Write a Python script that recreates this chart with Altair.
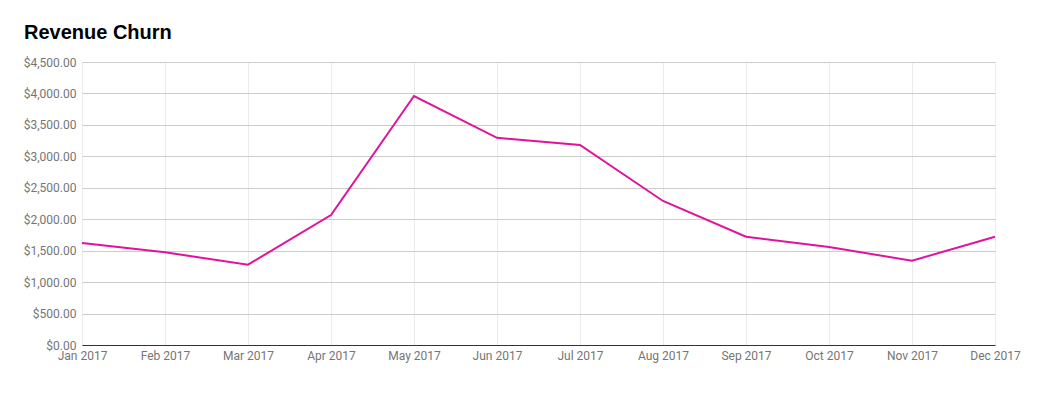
import altair as alt
import pandas as pd

months = ["Jan 2017", "Feb 2017", "Mar 2017", "Apr 2017", "May 2017", "Jun 2017",
          "Jul 2017", "Aug 2017", "Sep 2017", "Oct 2017", "Nov 2017", "Dec 2017"]
churn = [1622, 1474, 1277, 2067, 3959, 3295, 3182, 2290, 1722, 1558, 1340, 1722]
y_ticks = [0, 500, 1000, 1500, 2000, 2500, 3000, 3500, 4000, 4500]

df = pd.DataFrame({"month": months, "churn": churn})

chart = alt.Chart(df).mark_line(color="#e0129e", strokeWidth=2).encode(
    x=alt.X("month:O", sort=months, title=None,
            scale=alt.Scale(type="point", padding=0),
            axis=alt.Axis(labelAngle=0, labelFont="Roboto", labelFontSize=12,
                          labelColor="#757575", ticks=False, domainColor="#333333",
                          domainWidth=1, grid=True, gridColor="#ebebeb",
                          labelPadding=5)),
    y=alt.Y("churn:Q", title=None,
            scale=alt.Scale(domain=[0, 4500], nice=False),
            axis=alt.Axis(values=y_ticks, format="$,.2f", labelFont="Roboto",
                          labelFontSize=12, labelColor="#757575", ticks=False,
                          domain=False, gridColor="#cccccc", labelPadding=6)),
).properties(
    width=913, height=283,
    autosize=alt.AutoSizeParams(type="none"),
    padding={"left": 74, "top": 54, "right": 30, "bottom": 40},
    title=alt.TitleParams("Revenue Churn", anchor="start", frame="group",
                          dx=-58, font="Liberation Sans", fontSize=20,
                          fontWeight="bold", color="#000000", offset=13),
).configure_view(stroke=None)

chart.save("out.html", embed_options={"renderer": "svg", "actions": False})
